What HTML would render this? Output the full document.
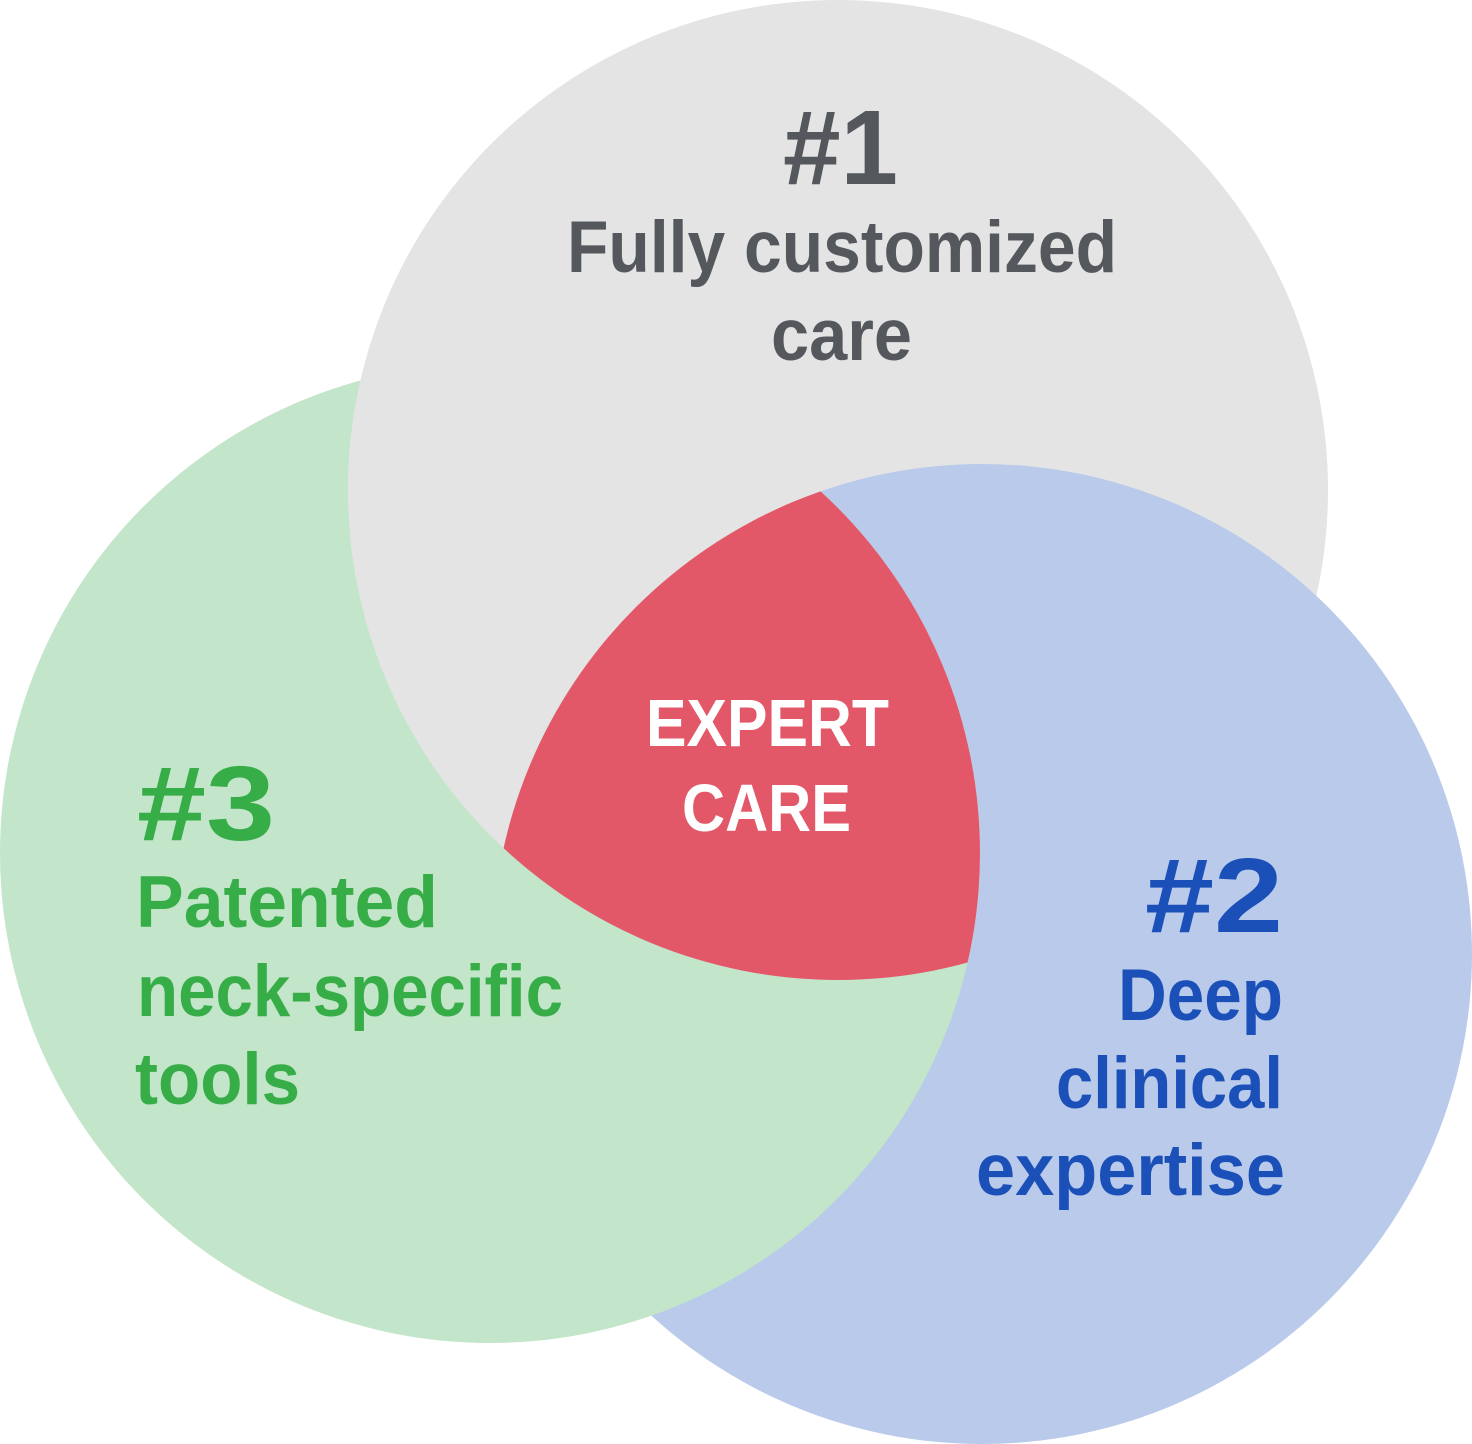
<!DOCTYPE html>
<html>
<head>
<meta charset="utf-8">
<style>
  html, body { margin: 0; padding: 0; background: #ffffff; }
  body { width: 1472px; height: 1444px; overflow: hidden; }
  svg { display: block; }
  text { font-family: "Liberation Sans", "DejaVu Sans", sans-serif; font-weight: bold; }
</style>
</head>
<body>
<svg width="1472" height="1444" viewBox="0 0 1472 1444" xmlns="http://www.w3.org/2000/svg">
  <defs>
    <clipPath id="cGray"><circle cx="838" cy="490" r="490"/></clipPath>
    <clipPath id="cGreen"><circle cx="490" cy="853" r="490"/></clipPath>
    <clipPath id="cBlue"><circle cx="982" cy="954" r="490"/></clipPath>
  </defs>
  <rect width="1472" height="1444" fill="#ffffff"/>
  <!-- base circles -->
  <circle cx="490" cy="853" r="490" fill="#c3e5c9"/>
  <circle cx="982" cy="954" r="490" fill="#b9caea"/>
  <circle cx="838" cy="490" r="490" fill="#e4e4e4"/>
  <!-- pairwise overlaps -->
  <circle cx="982" cy="954" r="490" fill="#b9caea" clip-path="url(#cGray)"/>
  <circle cx="490" cy="853" r="490" fill="#c3e5c9" clip-path="url(#cBlue)"/>
  <circle cx="838" cy="490" r="490" fill="#e4e4e4" clip-path="url(#cGreen)"/>
  <!-- triple overlap -->
  <g clip-path="url(#cGray)">
    <circle cx="490" cy="853" r="490" fill="#e25869" clip-path="url(#cBlue)"/>
  </g>

  <!-- #1 -->
  <g fill="#54575c">
    <text x="783" y="184" font-size="106" textLength="115" lengthAdjust="spacingAndGlyphs">#1</text>
    <text x="567" y="272" font-size="73" textLength="550" lengthAdjust="spacingAndGlyphs">Fully customized</text>
    <text x="771" y="360" font-size="73" textLength="141" lengthAdjust="spacingAndGlyphs">care</text>
  </g>

  <!-- #3 -->
  <g fill="#37ad48">
    <text x="137" y="840" font-size="106" textLength="138" lengthAdjust="spacingAndGlyphs">#3</text>
    <text x="136" y="927" font-size="73" textLength="302" lengthAdjust="spacingAndGlyphs">Patented</text>
    <text x="137" y="1016" font-size="73" textLength="426" lengthAdjust="spacingAndGlyphs">neck-specific</text>
    <text x="135" y="1104" font-size="73" textLength="165" lengthAdjust="spacingAndGlyphs">tools</text>
  </g>

  <!-- #2 -->
  <g fill="#1b50b9">
    <text x="1145" y="932" font-size="106" textLength="138" lengthAdjust="spacingAndGlyphs">#2</text>
    <text x="1118" y="1020" font-size="73" textLength="165" lengthAdjust="spacingAndGlyphs">Deep</text>
    <text x="1056" y="1108" font-size="73" textLength="227" lengthAdjust="spacingAndGlyphs">clinical</text>
    <text x="976" y="1195" font-size="73" textLength="309" lengthAdjust="spacingAndGlyphs">expertise</text>
  </g>

  <!-- center -->
  <g fill="#ffffff">
    <text x="646" y="746" font-size="67" textLength="243" lengthAdjust="spacingAndGlyphs">EXPERT</text>
    <text x="682" y="831" font-size="67" textLength="169" lengthAdjust="spacingAndGlyphs">CARE</text>
  </g>
</svg>
</body>
</html>
